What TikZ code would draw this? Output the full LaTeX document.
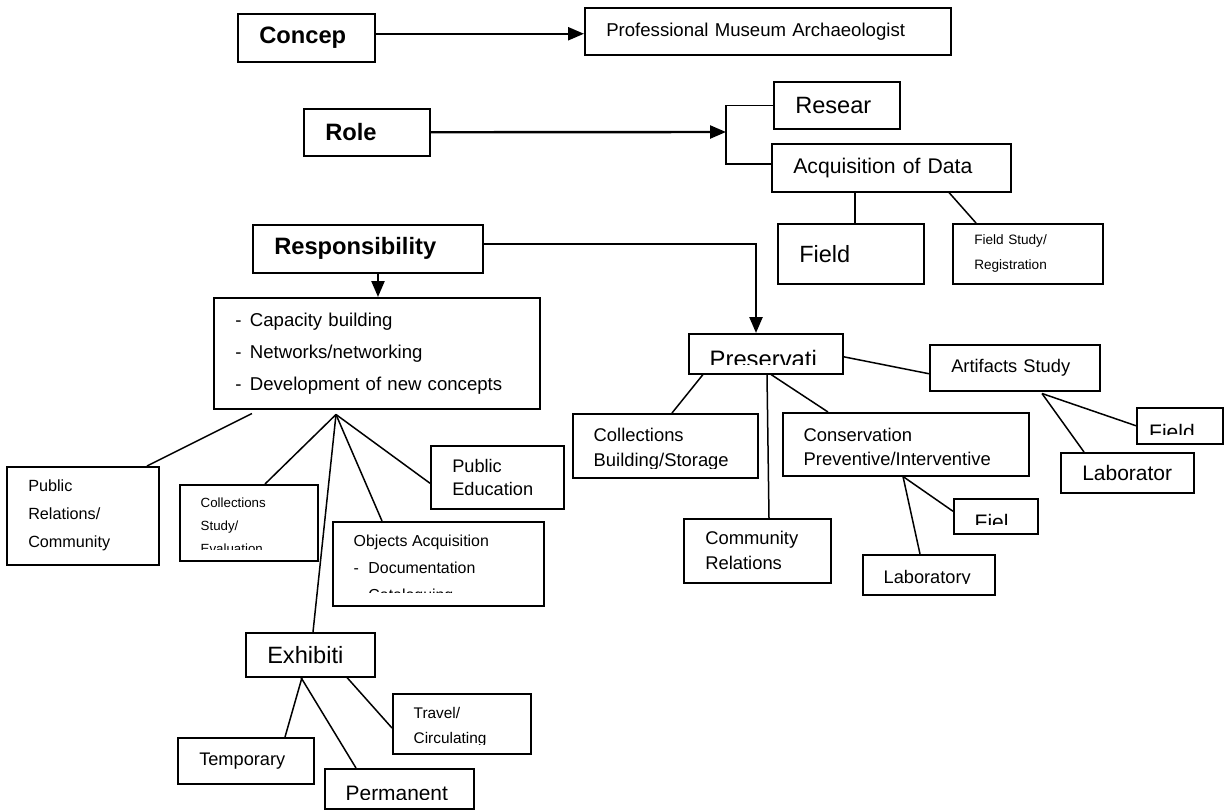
\documentclass[tikz,border=0pt]{standalone}
\usepackage{fontspec}
\setmainfont{Liberation Sans}
\usetikzlibrary{arrows.meta}
\hyphenpenalty=10000
% text of a box that runs past its lower edge and is cut off there
\newcommand{\cuttext}[5][10]{%
  \begin{scope}
    \clip (#2.north west) rectangle ([yshift=#1pt]#2.south east);
    \node[txt, #4] (#2-t) at ([shift={(21.5pt,-#3pt)}]#2.north west) {#5};
  \end{scope}}
\begin{document}
\begin{tikzpicture}[x=1pt,y=-1pt,
    box/.style={draw, line width=1.5pt, anchor=north west, inner xsep=21.5pt, inner ysep=0pt, align=left},
    txt/.style={anchor=north west, inner sep=0pt, align=left},
    sz/.style 2 args={font=\fontsize{#1}{#2}\selectfont},
    conn/.style={line width=1.5pt},
    arr/.style={line width=2.4pt, -{Triangle[length=16pt,width=13pt]}}]
\useasboundingbox (0,0) rectangle (1226,809);

% concept and role
\node[box, sz={23.7}{28}, text width=94pt, minimum height=48pt] (concep) at (237,13) {\bfseries Concep};
\node[box, sz={18.6}{22}, text width=323pt, minimum height=47pt] (prof) at (584,7) {Professional Museum Archaeologist};
\node[box, sz={23.7}{28}, text width=83pt, minimum height=47pt] (role) at (303,108) {\bfseries Role};
\node[box, sz={23.6}{28}, text width=83pt, minimum height=47pt] (resear) at (773,81) {Resear};
\node[box, sz={21.2}{25}, text width=196pt, minimum height=48pt] (acq) at (771,143) {Acquisition of Data};
\node[box, sz={23.5}{28}, text width=103pt, minimum height=60pt] (field) at (777,223) {Field};
\node[box, sz={13.6}{25}, text width=107pt, minimum height=60pt] (fstudy) at (952,223) {Field Study/\\Registration};

% responsibility, left branch
\node[box, sz={23.7}{28}, text width=187pt, minimum height=48pt] (resp) at (252,224) {\bfseries Responsibility};
\node[box, sz={18.6}{32}, text width=283pt, minimum height=111pt] (capa) at (213,297)
  {-\hspace{8.5pt}Capacity building\\-\hspace{8.5pt}Networks/networking\\-\hspace{8.5pt}Development of new concepts};
\node[box, sz={16.2}{28}, text width=109pt, minimum height=98pt] (prc) at (6,466) {Public\\Relations/\\Community};
\node[box, text width=95pt, minimum height=76pt] (cstudy) at (179,484) {};
\node[box, sz={18.2}{23}, text width=90pt, minimum height=63pt] (pedu) at (430,445) {Public\\Education};
\node[box, text width=168pt, minimum height=84pt] (objacq) at (332,521) {};
\node[box, sz={23.6}{28}, text width=86pt, minimum height=44pt] (exhib) at (245,632) {Exhibiti};
\node[box, sz={18.2}{22}, text width=93pt, minimum height=46pt] (temp) at (177,737) {Temporary};
\node[box, text width=106pt, minimum height=40pt] (perm) at (324,768) {};
\node[box, text width=95pt, minimum height=60pt] (travel) at (392,693) {};

% preservation, right branch
\node[box, text width=111pt, minimum height=40pt] (pres) at (688,333) {};
\node[box, text width=142pt, minimum height=64pt] (cbuild) at (572,413) {};
\node[box, sz={18.4}{25}, text width=104pt, minimum height=64pt] (comm) at (683,518) {Community\\Relations};
\node[box, text width=203pt, minimum height=63pt] (cons) at (782,412) {};
\node[box, text width=89pt, minimum height=40pt] (lab) at (862,554) {};
\node[box, text width=41pt, minimum height=35pt] (fiel) at (953,498) {};
\node[box, sz={18.3}{22}, text width=127pt, minimum height=46pt] (art) at (929,344) {Artifacts Study};
\node[box, text width=43pt, minimum height=36pt] (afield) at (1136,407) {};
\node[box, sz={21}{25}, text width=90pt, minimum height=40pt] (labr) at (1060,452) {Laborator};

% cut off texts
\cuttext[12]{cstudy}{14}{sz={13.3}{23}}{Collections\\Study/\\Evaluation}
\cuttext[14]{objacq}{14}{sz={15.9}{27}}{Objects Acquisition\\-\hspace{9.5pt}Documentation\\-\hspace{9.5pt}Cataloguing}
\cuttext{perm}{18}{sz={20.9}{25}}{Permanent}
\cuttext{travel}{14.5}{sz={15.4}{25}}{Travel/\\Circulating}
\cuttext{pres}{17}{sz={23.8}{28}}{Preservati}
\cuttext{cbuild}{15}{sz={18.4}{25}}{Collections\\Building/Storage}
\cuttext{cons}{16}{sz={18.4}{24}}{Conservation\\Preventive/Interventive}
\cuttext[12]{lab}{16}{sz={18.2}{22}}{Laboratory}
\cuttext{fiel}{16}{sz={21}{25}}{Fiel}
\cuttext{afield}{17}{sz={21}{25}, xshift=-8.5pt}{Field}

% arrows at the top
\coordinate (c1) at ([yshift=4pt]concep.east);
\draw[arr] (c1) -- (c1 -| prof.west);
\coordinate (fork) at (726,132);
\draw[arr] (role.east) -- (fork);
\draw[conn] (resear.west) -| (fork) |- ([yshift=4pt]acq.west);
\draw[conn] ([xshift=84pt]acq.south west) -- ([xshift=78pt]field.north west);
\draw[conn] ([xshift=178pt]acq.south west) -- ([xshift=24pt]fstudy.north west);

% responsibility
\coordinate (r1) at ([yshift=5pt]resp.east);
\draw[arr] (r1) -| ([xshift=68pt]pres.north west);
\coordinate (r2) at ([xshift=126pt]resp.south west);
\draw[arr] (r2) -- (r2 |- capa.north);

% lines below the capacity box
\draw[conn] ([xshift=39pt,yshift=-4pt]capa.south west) -- ([xshift=141pt]prc.north west);
\coordinate (hub) at ([xshift=123pt,yshift=-5pt]capa.south west);
\draw[conn] (hub) -- ([xshift=86pt]cstudy.north west);
\draw[conn] (hub) -- ([xshift=68pt]exhib.north west);
\draw[conn] (hub) -- ([xshift=50pt]objacq.north west);
\draw[conn] (hub) -- ([yshift=-6pt]pedu.west);

% exhibition
\draw[conn] ([xshift=57pt]exhib.south west) -- ([xshift=108pt]temp.north west);
\draw[conn] ([xshift=56pt]exhib.south west) -- ([xshift=32pt]perm.north west);
\draw[conn] ([xshift=102pt]exhib.south west) -- ([yshift=-35pt]travel.north west);

% preservation
\draw[conn] ([xshift=15pt]pres.south west) -- ([xshift=100pt]cbuild.north west);
\draw[conn] ([xshift=79pt]pres.south west) -- ([xshift=86pt]comm.north west);
\draw[conn] ([xshift=83pt]pres.south west) -- ([xshift=46pt]cons.north west);
\draw[conn] ([yshift=-3pt]pres.east) -- ([yshift=-6pt]art.west);
\coordinate (ahub) at ([xshift=113pt,yshift=-2pt]art.south west);
\draw[conn] (ahub) -- (afield.west);
\draw[conn] (ahub) -- ([xshift=24pt]labr.north west);
\coordinate (chub) at ([xshift=121pt]cons.south west);
\draw[conn] (chub) -- ([yshift=5pt]fiel.west);
\draw[conn] (chub) -- ([xshift=58pt]lab.north west);
\end{tikzpicture}
\end{document}
